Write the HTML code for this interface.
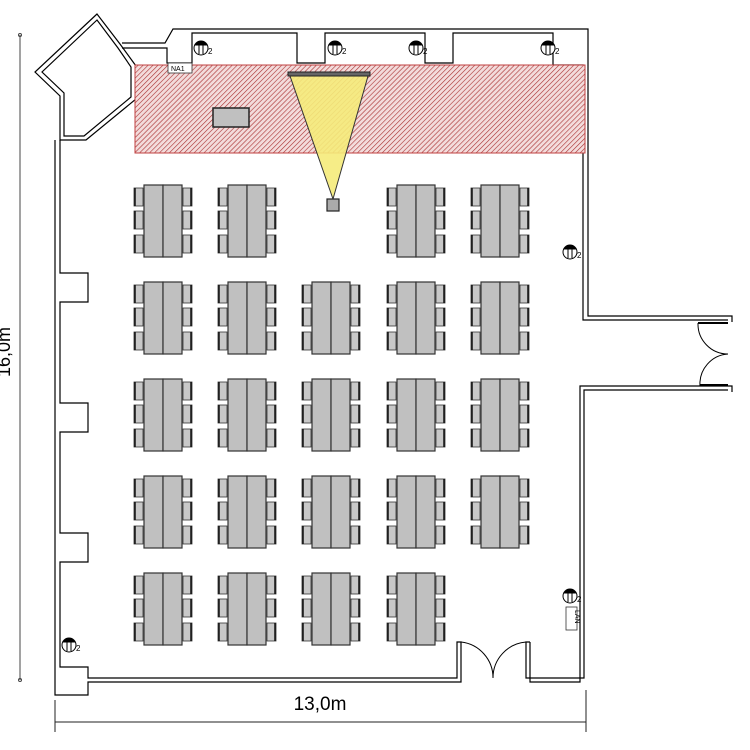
<!DOCTYPE html>
<html><head><meta charset="utf-8"><style>html,body{margin:0;padding:0;background:#fff}svg{display:block}</style></head>
<body>
<svg width="750" height="750" viewBox="0 0 750 750" xmlns="http://www.w3.org/2000/svg" font-family="Liberation Sans, sans-serif">
<defs>
<pattern id="h" patternUnits="userSpaceOnUse" width="3.5" height="3.5" patternTransform="rotate(45)">
<rect width="3.5" height="3.5" fill="#f3dcdc"/>
<line x1="0" y1="0" x2="0" y2="3.5" stroke="#a83030" stroke-width="1.2"/>
</pattern>
<g id="ch">
<rect x="0" y="0" width="9" height="18" fill="#c8c8c8" stroke="#333" stroke-width="0.8"/>
<line x1="1" y1="0" x2="1" y2="18" stroke="#111" stroke-width="1.5"/>
</g>
<g id="tg">
<rect x="0" y="0" width="19" height="72" fill="#c0c0c0" stroke="#333" stroke-width="1.2"/>
<rect x="19" y="0" width="19" height="72" fill="#c0c0c0" stroke="#333" stroke-width="1.2"/>
<use href="#ch" x="-10" y="3"/><use href="#ch" x="-10" y="26"/><use href="#ch" x="-10" y="50"/>
<use href="#ch" transform="translate(48,3) scale(-1,1)"/><use href="#ch" transform="translate(48,26) scale(-1,1)"/><use href="#ch" transform="translate(48,50) scale(-1,1)"/>
</g>
<g id="so">
<circle cx="0" cy="0" r="7" fill="#fff" stroke="#000" stroke-width="1"/>
<path d="M-6.5,-2.5 A7,7 0 0 1 6.5,-2.5 Z" fill="#000"/>
<line x1="-2" y1="-3" x2="-2" y2="6" stroke="#000"/><line x1="2" y1="-3" x2="2" y2="6" stroke="#000"/>
<text x="7" y="6" font-size="8">2</text>
</g>
</defs>

<line x1="20" y1="35" x2="20" y2="680" stroke="#444" stroke-width="1"/>
<circle cx="20" cy="35" r="1.5" fill="none" stroke="#444"/><circle cx="20" cy="680" r="1.5" fill="none" stroke="#444"/>
<text transform="translate(10,352) rotate(-90)" font-size="18" text-anchor="middle">16,0m</text>
<line x1="55" y1="722" x2="586" y2="722" stroke="#222" stroke-width="1"/>
<line x1="55" y1="700" x2="55" y2="732" stroke="#222"/><line x1="586" y1="690" x2="586" y2="732" stroke="#222"/>
<text x="320" y="710" font-size="19" text-anchor="middle">13,0m</text>

<g fill="none" stroke="#000" stroke-width="1.2">
<polygon points="97,14 35,72 60,96 60,140 86,140 136,99 136,66 120,44" fill="#fff"/>
<polygon points="97,20 42,72 64,93 64,136 84,136 131,97 131,67 118,48"/>
<polyline points="122,43 165,43 173,29 588,29 588,316 732,316 732,322"/>
<polyline points="122,48 167,48 167,63 192,63 192,33 297,33 297,63 325,63 325,33 425,33 425,63 453,63 453,33 553,33 553,65 583,65 583,320 728,320"/>
<polyline points="732,392 732,386 580,386 580,682 530,682 530,642"/>
<polyline points="728,390 584,390 584,678 526,678 526,642 530,642"/>
<polyline points="55,140 55,695 88,695 88,682 461,682 461,642 457,642 457,678 88,678 88,667 60,667 60,562 88,562 88,533 60,533 60,432 88,432 88,403 60,403 60,302 88,302 88,273 60,273 60,140"/>
<path d="M461,642 A36,36 0 0 1 493,678 M526,642 A36,36 0 0 0 493,678" stroke-width="1"/>
<path d="M698,323 A30,30 0 0 0 728,354 M700,386 A30,30 0 0 1 728,354" stroke-width="1"/>
<line x1="698" y1="323" x2="728" y2="323" stroke-width="2"/><line x1="700" y1="385" x2="728" y2="385" stroke-width="2"/>
</g>

<rect x="135" y="65" width="450" height="88" fill="url(#h)" stroke="#c04040" stroke-width="1"/>
<rect x="213" y="108" width="36" height="19" fill="#c0c0c0" stroke="#222" stroke-width="1.5"/>
<polygon points="290,76 368,76 333,199" fill="#f5eb7a" fill-opacity="0.9" stroke="#333" stroke-width="1"/>
<rect x="288" y="72" width="82" height="4" fill="#666" stroke="#222"/>
<rect x="327" y="199" width="12" height="12" fill="#aaa" stroke="#222" stroke-width="1.2"/>
<rect x="168" y="63" width="24" height="10" fill="#fff" stroke="#333" stroke-width="0.8"/>
<text x="171" y="71" font-size="7">NA1</text>

<use href="#tg" x="144" y="185"/><use href="#tg" x="228" y="185"/><use href="#tg" x="397" y="185"/><use href="#tg" x="481" y="185"/>
<use href="#tg" x="144" y="282"/><use href="#tg" x="228" y="282"/><use href="#tg" x="312" y="282"/><use href="#tg" x="397" y="282"/><use href="#tg" x="481" y="282"/>
<use href="#tg" x="144" y="379"/><use href="#tg" x="228" y="379"/><use href="#tg" x="312" y="379"/><use href="#tg" x="397" y="379"/><use href="#tg" x="481" y="379"/>
<use href="#tg" x="144" y="476"/><use href="#tg" x="228" y="476"/><use href="#tg" x="312" y="476"/><use href="#tg" x="397" y="476"/><use href="#tg" x="481" y="476"/>
<use href="#tg" x="144" y="573"/><use href="#tg" x="228" y="573"/><use href="#tg" x="312" y="573"/><use href="#tg" x="397" y="573"/>

<use href="#so" x="201" y="48"/><use href="#so" x="335" y="48"/><use href="#so" x="416" y="48"/><use href="#so" x="548" y="48"/>
<use href="#so" x="570" y="252"/><use href="#so" x="69" y="645"/><use href="#so" x="570" y="596"/>
<rect x="566" y="607" width="11" height="23" fill="#fff" stroke="#333" stroke-width="0.8"/>
<text transform="translate(575,610) rotate(90)" font-size="7">LAN</text>
</svg>
</body></html>
